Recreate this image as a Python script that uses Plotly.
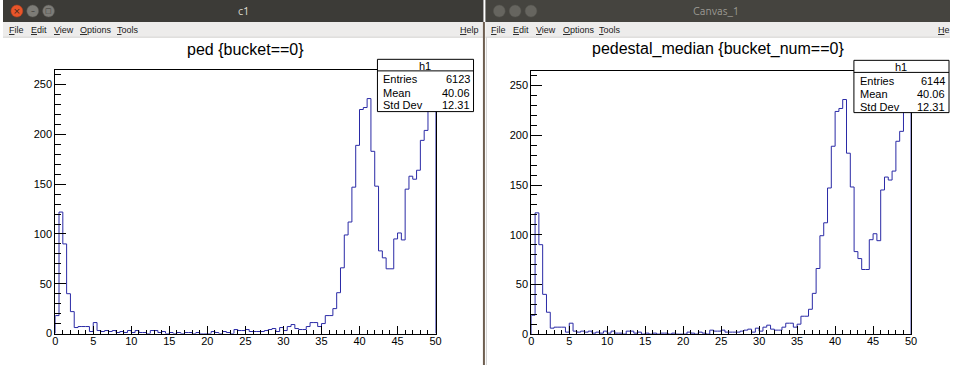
import numpy as np
import plotly.graph_objects as go

# ---------------- data ----------------
bin_width = 0.5
x_min, x_max = 0, 50

ped_counts = [
    18, 122, 90, 40, 22, 6, 7, 7, 7, 2,
    11, 3, 2, 3, 2, 3, 1, 2, 1, 3,
    1, 3, 1, 1, 0, 3, 3, 1, 2, 0,
    1, 0, 1, 0, 1, 1, 0, 1, 0, 0,
    0, 2, 1, 0, 2, 1, 0, 4, 3, 3,
    4, 2, 2, 2, 2, 3, 4, 5, 2, 6,
    3, 7, 9, 5, 4, 4, 7, 11, 11, 7,
    10, 18, 18, 25, 41, 66, 99, 112, 147, 189,
    225, 227, 236, 183, 148, 83, 76, 65, 65, 95,
    101, 94, 145, 158, 155, 164, 194, 204, 232, 252,
]
pedestal_median_counts = [
    19, 122, 90, 40, 22, 6, 7, 7, 7, 2,
    11, 3, 2, 3, 2, 3, 1, 2, 1, 3,
    1, 3, 1, 1, 0, 3, 3, 1, 2, 0,
    1, 0, 1, 0, 1, 1, 0, 1, 0, 0,
    0, 2, 1, 0, 2, 1, 0, 4, 3, 3,
    4, 2, 2, 2, 2, 3, 4, 5, 2, 6,
    3, 7, 9, 5, 4, 4, 7, 11, 11, 7,
    10, 18, 18, 25, 41, 66, 99, 112, 147, 189,
    224, 227, 236, 182, 148, 83, 76, 65, 65, 95,
    101, 94, 145, 158, 155, 164, 194, 204, 232, 252,
]

titles = ["ped {bucket==0}", "pedestal_median {bucket_num==0}"]
window_titles = ["c1", "Canvas_1"]
stats_labels = ["Entries", "Mean", "Std Dev"]
stats_left = ["6123", "40.06", "12.31"]
stats_right = ["6144", "40.06", "12.31"]
menu_items = ["<u>F</u>ile", "<u>E</u>dit", "<u>V</u>iew", "<u>O</u>ptions", "<u>T</u>ools"]

W, H = 956, 365          # design grid (reference pixels)
FIG_H = 373              # page height used for the figure
FONT = "Liberation Sans, Arial, sans-serif"


def px(x):
    return x / W


def py(y):
    return 1 - y / H


def step_xy(counts):
    counts = np.asarray(counts, dtype=float)
    edges = x_min + bin_width * np.arange(len(counts) + 1)
    xs = np.concatenate([[edges[0]], edges[:-1], [edges[-1]], [edges[-1]]])
    ys = np.concatenate([[0], counts, [counts[-1]], [0]])
    return xs, ys


fig = go.Figure()

hist_color = "#2a2aa6"
for i, counts in enumerate([ped_counts, pedestal_median_counts]):
    xs, ys = step_xy(counts)
    fig.add_trace(go.Scatter(
        x=xs, y=ys, mode="lines", line=dict(color=hist_color, width=1, shape="hv"),
        xaxis="x" if i == 0 else "x2", yaxis="y" if i == 0 else "y2",
        hoverinfo="skip", showlegend=False,
    ))

# frame geometry (pixels)
frames = [
    dict(l=52.7, r=436.7, t=70.0, b=331.7),
    dict(l=533.3, r=916.7, t=71.0, b=332.3),
]
y_top = 264.3


def xaxis_cfg(f):
    return dict(
        domain=[px(f["l"]), px(f["r"])], range=[x_min, x_max],
        tickmode="linear", tick0=0, dtick=5,
        ticks="inside", ticklen=8, tickwidth=1, tickcolor="black",
        minor=dict(dtick=1, ticks="inside", ticklen=4, tickwidth=1, tickcolor="black", showgrid=False),
        showline=True, mirror=True, linecolor="black", linewidth=1,
        showgrid=False, zeroline=False, fixedrange=True, ticklabelstandoff=-3,
        tickfont=dict(family=FONT, size=11, color="black"),
    )


def yaxis_cfg(f):
    return dict(
        domain=[py(f["b"]), py(f["t"])], range=[0, y_top],
        tickmode="linear", tick0=0, dtick=50,
        ticks="inside", ticklen=11, tickwidth=1, tickcolor="black",
        minor=dict(dtick=10, ticks="inside", ticklen=5.5, tickwidth=1, tickcolor="black", showgrid=False),
        showline=True, mirror=True, linecolor="black", linewidth=1,
        showgrid=False, zeroline=False, fixedrange=True,
        tickfont=dict(family=FONT, size=11, color="black"),
    )


shapes = []
annotations = []


def rect(x0, y0, x1, y1, fill, line=None, lw=0, layer="above"):
    shapes.append(dict(type="rect", xref="paper", yref="paper",
                       x0=px(x0), x1=px(x1), y0=py(y1), y1=py(y0),
                       fillcolor=fill, line=dict(color=line or fill, width=lw), layer=layer))


def circle(cx, cy, r, fill, line=None):
    shapes.append(dict(type="circle", xref="paper", yref="paper",
                       x0=px(cx - r), x1=px(cx + r), y0=py(cy + r), y1=py(cy - r),
                       fillcolor=fill, line=dict(color=line or fill, width=0.5), layer="above"))


def text(x, y, s, size=11, color="black", xanchor="center", family=FONT):
    annotations.append(dict(xref="paper", yref="paper", x=px(x), y=py(y), text=s,
                            showarrow=False, xanchor=xanchor, yanchor="middle", borderpad=0,
                            font=dict(family=family, size=size, color=color)))


# ----- window chrome -----
windows = [
    dict(x0=0, x1=485, active=True, title_x=243),
    dict(x0=487, x1=956, active=False, title_x=720),
]
for wi, w in enumerate(windows):
    bar = "#3c3b37" if w["active"] else "#45443f"
    rect(w["x0"], 0, w["x1"], 22, bar, layer="below")
    rect(w["x0"], 22, w["x1"], 37, "#edeceb", layer="below")
    shapes.append(dict(type="line", xref="paper", yref="paper", x0=px(w["x0"]), x1=px(w["x1"]),
                       y0=py(37), y1=py(37), line=dict(color="#d4d3d0", width=1), layer="below"))
    text(w["title_x"], 11, window_titles[wi], size=11,
         color="#dfdbd2" if w["active"] else "#9a9892", family="Ubuntu, DejaVu Sans, sans-serif")
    bx = w["x0"] + 14
    if w["active"]:
        circle(bx, 11, 6, "#e8552a", "#b8401c")
        text(bx, 11, "×", size=9, color="#3c2a20", family="DejaVu Sans")
        circle(bx + 16, 11, 6, "#7d7c77", "#5a5955")
        circle(bx + 32, 11, 6, "#7d7c77", "#5a5955")
        text(bx + 16, 11, "–", size=8, color="#3c3b37", family="DejaVu Sans")
        text(bx + 32, 11, "□", size=7, color="#3c3b37", family="DejaVu Sans")
    else:
        for k in range(3):
            circle(bx + 16 * k, 11, 6, "#66655f", "#55544f")
    # menu
    mx = [5, 27, 50, 77, 114]
    for m, xx in zip(menu_items, mx):
        text(w["x0"] + xx, 29.5, m, size=9, color="#1a1a1a", xanchor="left")
    if wi == 0:
        text(482, 29.5, "<u>H</u>elp", size=9, color="#1a1a1a", xanchor="right")
    else:
        text(943, 29.5, "<u>H</u>e", size=9, color="#1a1a1a", xanchor="left")

# window separator / shadow
shapes.append(dict(type="line", xref="paper", yref="paper", x0=px(485.5), x1=px(485.5),
                   y0=py(365), y1=py(22), line=dict(color="#6e5e50", width=2), layer="above"))
shapes.append(dict(type="line", xref="paper", yref="paper", x0=px(488), x1=px(488),
                   y0=py(365), y1=py(37), line=dict(color="#d0d0d0", width=1), layer="above"))

# ----- titles -----
text(245, 49, titles[0], size=16)
text(722, 49, titles[1], size=16)

# ----- stats boxes -----
boxes = [
    dict(l=378, r=475, t=59, sep=70.5, b=111, vals=stats_left),
    dict(l=859, r=955, t=60, sep=72, b=112, vals=stats_right),
]
for bxd in boxes:
    rect(bxd["l"], bxd["t"], bxd["r"], bxd["b"], "white", "black", 1)
    shapes.append(dict(type="line", xref="paper", yref="paper", x0=px(bxd["l"]), x1=px(bxd["r"]),
                       y0=py(bxd["sep"]), y1=py(bxd["sep"]), line=dict(color="black", width=1), layer="above"))
    text((bxd["l"] + bxd["r"]) / 2, (bxd["t"] + bxd["sep"]) / 2 + 0.5, "h1", size=11)
    row_y = [bxd["sep"] + 8.5, bxd["sep"] + 21.5, bxd["sep"] + 34]
    for lab, val, yy in zip(stats_labels, bxd["vals"], row_y):
        text(bxd["l"] + 5, yy, lab, size=11, xanchor="left")
        text(bxd["r"] - 3, yy, val, size=11, xanchor="right")

fig.update_layout(
    width=W, height=FIG_H, autosize=False,
    margin=dict(l=0, r=0, t=0, b=0, pad=0),
    paper_bgcolor="white", plot_bgcolor="white",
    xaxis=dict(anchor="y", **xaxis_cfg(frames[0])),
    yaxis=dict(anchor="x", **yaxis_cfg(frames[0])),
    xaxis2=dict(anchor="y2", **xaxis_cfg(frames[1])),
    yaxis2=dict(anchor="x2", **yaxis_cfg(frames[1])),
    shapes=shapes, annotations=annotations,
    showlegend=False,
)

post = (
    "var h=document.documentElement,b=document.body;"
    "[h,b].forEach(function(e){e.style.margin='0';e.style.padding='0';"
    "e.style.overflow='hidden';});"
)

fig.write_html("out.html", config=dict(displayModeBar=False, responsive=False), post_script=post)
